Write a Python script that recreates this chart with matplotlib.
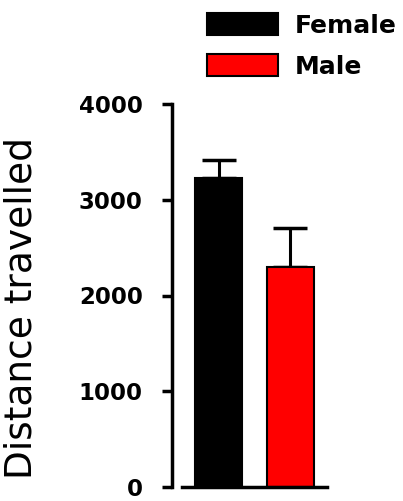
import matplotlib
matplotlib.use("Agg")
import matplotlib.pyplot as plt

groups = ["Female", "Male"]
means = [3227, 2298]
errors = [190, 407]
colors = ["#000000", "#ff0000"]
yticks = [0, 1000, 2000, 3000, 4000]
ylabel = "Distance travelled"

plt.rcParams['font.family'] = ['DejaVu Sans']

W, H = 403, 501
fig = plt.figure(figsize=(W / 100, H / 100), dpi=100)
ax = fig.add_axes([172 / W, 14 / H, 155 / W, 383 / H])

x = [0, 1]
bars = ax.bar(x, means, width=0.64, color=colors, edgecolor="black",
              linewidth=1.5, label=groups, zorder=2)
ax.errorbar(x, means, yerr=[[0, 0], errors], fmt="none", ecolor="black",
            elinewidth=2.2, capsize=12.5, capthick=2.5, zorder=1)

ax.set_xlim(-0.646, 1.507)
ax.set_ylim(0, 4000)
ax.set_yticks(yticks)
ax.set_yticklabels([str(v) for v in yticks], fontsize=16.5, fontweight="bold")
ax.set_xticks([])
ax.tick_params(axis="y", length=7, width=2.5, pad=14)

for s in ["top", "right"]:
    ax.spines[s].set_visible(False)
ax.spines["left"].set_linewidth(2.5)
ax.spines["bottom"].set_linewidth(2.5)
ax.spines["bottom"].set_bounds(-0.507, 1.507)

ax.set_ylabel(ylabel, fontsize=27)
ax.yaxis.label.set_va("center")
ax.yaxis.set_label_coords(22 / W, 1 - 308 / H, transform=fig.transFigure)

leg = fig.legend(handles=list(bars), labels=groups, loc="upper left",
                 bbox_to_anchor=(207 / W, 1 - 13 / H), frameon=False,
                 prop={"size": 18, "weight": "bold"}, handlelength=2.84,
                 handleheight=1.0, handletextpad=0.68, labelspacing=0.65,
                 borderpad=0, borderaxespad=0)

fig.savefig("out.png", dpi=100)
